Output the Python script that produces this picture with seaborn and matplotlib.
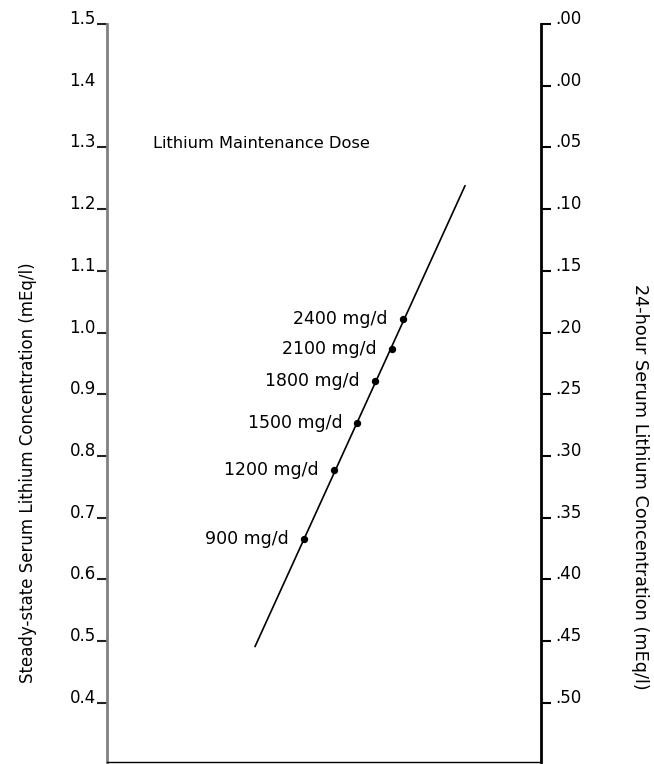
import matplotlib
matplotlib.use("Agg")
import matplotlib.pyplot as plt
import seaborn as sns
import pandas as pd

# ---- data ----
doses = ["900 mg/d", "1200 mg/d", "1500 mg/d", "1800 mg/d", "2100 mg/d", "2400 mg/d"]
dose_pos = [0.455, 0.523, 0.577, 0.618, 0.656, 0.681]        # horizontal position on nomogram
steady_state = [0.665, 0.778, 0.853, 0.922, 0.973, 1.022]    # mEq/l (left scale)
line_pos = [0.341, 0.825]
line_conc = [0.491, 1.238]

left_ticks = [1.5, 1.3, 1.2, 1.1, 1.0, 0.9, 0.8, 0.7, 0.6, 0.5, 0.4]
left_labels = ["1.5", "1.3", "1.2", "1.1", "1.0", "0.9", "0.8", "0.7", "0.6", "0.5", "0.4"]
left_unticked = [1.4]
left_unticked_labels = ["1.4"]
right_ticks = [1.5, 1.4, 1.3, 1.2, 1.1, 1.0, 0.9, 0.8, 0.7, 0.6, 0.5, 0.4]
right_labels = [".00", ".00", ".05", ".10", ".15", ".20", ".25", ".30", ".35", ".40", ".45", ".50"]

title_text = "Lithium Maintenance Dose"
left_title = "Steady-state Serum Lithium Concentration (mEq/l)"
right_title = "24-hour Serum Lithium Concentration (mEq/l)"

sns.set_style("white")
plt.rcParams["font.family"] = ["DejaVu Sans"]
plt.rcParams["text.color"] = "black"
plt.rcParams["axes.labelcolor"] = "black"
plt.rcParams["ytick.color"] = "black"

fig = plt.figure(figsize=(6.54, 7.64), dpi=100)
ax = fig.add_axes([107 / 654, 2 / 764, 434 / 654, 738 / 764])

pts = pd.DataFrame({"pos": dose_pos, "conc": steady_state, "dose": doses})
ln = pd.DataFrame({"pos": line_pos, "conc": line_conc})

sns.lineplot(data=ln, x="pos", y="conc", ax=ax, color="black", linewidth=1.2)
sns.scatterplot(data=pts, x="pos", y="conc", ax=ax, color="black", s=28,
                edgecolor="black", linewidth=0, zorder=3)

for _, r in pts.iterrows():
    ax.annotate(r["dose"], (r["pos"], r["conc"]), xytext=(-11, 0),
                textcoords="offset points", ha="right", va="center", fontsize=12.5)

ax.annotate(title_text, xy=(153 / 654, 1 - 143 / 764), xycoords="figure fraction",
            ha="left", va="center", fontsize=11.7)

ax.set_xlim(0, 1)
ax.set_ylim(0.304, 1.5)
ax.set_xticks([])
ax.set_xlabel("")
ax.set_yticks(left_ticks)
ax.set_yticklabels(left_labels)
ax.set_yticks(left_unticked, minor=True)
ax.set_yticklabels(left_unticked_labels, minor=True)
ax.tick_params(axis="y", which="major", direction="out", length=7, width=1.5, pad=1,
               labelsize=12, color="#222222", left=True)
ax.tick_params(axis="y", which="minor", direction="out", length=7, width=0, pad=1,
               labelsize=12, left=True)
for t in ax.get_yticklabels(which="both"):
    t.set_va("baseline")

ax.set_ylabel(left_title, fontsize=12, va="center")
ax.yaxis.set_label_coords((28 - 107) / 434, (762 - 473) / 738)

ax.spines["top"].set_visible(False)
ax.spines["right"].set_visible(False)
ax.spines["left"].set_color("#808080")
ax.spines["left"].set_linewidth(2)
ax.spines["bottom"].set_color("black")
ax.spines["bottom"].set_linewidth(1)

ax2 = ax.twinx()
ax2.set_ylim(ax.get_ylim())
ax2.set_yticks(right_ticks)
ax2.set_yticklabels(right_labels)
ax2.tick_params(axis="y", direction="out", length=7, width=1.5, pad=3,
                labelsize=12, color="black", right=True)
for t in ax2.get_yticklabels():
    t.set_va("baseline")
for side in ["top", "left", "bottom"]:
    ax2.spines[side].set_visible(False)
ax2.spines["right"].set_color("black")
ax2.spines["right"].set_linewidth(2)
ax2.set_ylabel(right_title, fontsize=12.7, rotation=270, va="center")
ax2.yaxis.set_label_coords((640 - 107) / 434, (762 - 487) / 738)

fig.savefig("out.png", dpi=100)
